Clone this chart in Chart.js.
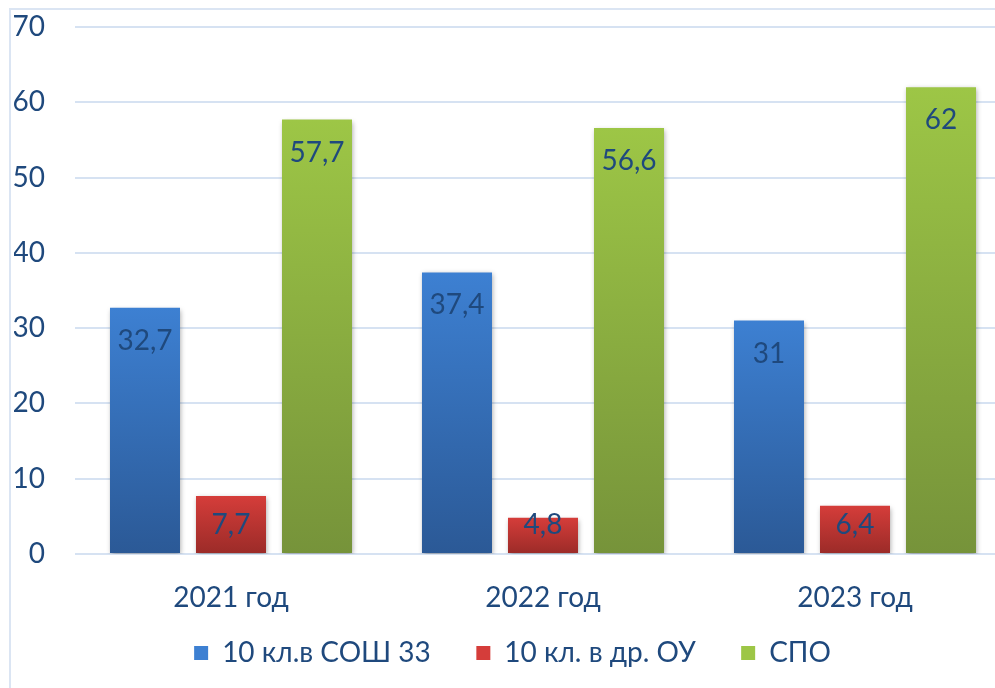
<!DOCTYPE html>
<html>
<head>
<meta charset="utf-8">
<script src="https://cdn.jsdelivr.net/npm/chart.js@4"></script>
<style>
  html, body { margin: 0; padding: 0; background: #fff; overflow: hidden; }
  #wrap { position: absolute; left: 0; top: 0; width: 1030px; height: 688px; }
  #frame { position: absolute; left: 9px; top: 8px; width: 1100px; height: 700px;
           border-left: 2px solid #dbe5f3; border-top: 2px solid #dbe5f3; }
</style>
</head>
<body>
<div id="frame"></div>
<div id="wrap"><canvas id="chart"></canvas></div>
<script>
// данные
const years = ["2021 год", "2022 год", "2023 год"];
const sosh33 = [32.7, 37.4, 31];
const otherOU = [7.7, 4.8, 6.4];
const spo = [57.7, 56.6, 62];
const yTicks = [0, 10, 20, 30, 40, 50, 60, 70];

const textColor = "#1f497d";
const font = "Lato, 'Open Sans', sans-serif";

function grad(top, bottom) {
  return function (ctx) {
    const chart = ctx.chart;
    if (!chart.chartArea || ctx.parsed === undefined) return top;
    const y = chart.scales.y;
    const y0 = y.getPixelForValue(ctx.parsed.y);
    const y1 = y.getPixelForValue(0);
    const g = chart.ctx.createLinearGradient(0, y0, 0, y1);
    g.addColorStop(0, top);
    g.addColorStop(1, bottom);
    return g;
  };
}

const barShadow = {
  id: "barShadow",
  beforeDatasetsDraw(chart) {
    const c = chart.ctx;
    c.save();
    c.shadowColor = "rgba(0,0,0,0.35)";
    c.shadowBlur = 5;
    c.shadowOffsetX = 1;
    c.shadowOffsetY = 2;
  },
  afterDatasetsDraw(chart) {
    chart.ctx.restore();
  }
};

const valueLabels = {
  id: "valueLabels",
  afterDatasetsDraw(chart) {
    const c = chart.ctx;
    const base = chart.scales.y.getPixelForValue(0);
    c.save();
    c.font = "28px " + font;
    c.fillStyle = textColor;
    c.textAlign = "center";
    c.textBaseline = "middle";
    chart.data.datasets.forEach((ds, i) => {
      chart.getDatasetMeta(i).data.forEach((bar, j) => {
        const txt = String(ds.data[j]).replace(".", ",");
        const ty = Math.min(bar.y + 33, base - 29);
        c.fillText(txt, bar.x, ty);
      });
    });
    c.restore();
  }
};

new Chart(document.getElementById("chart"), {
  type: "bar",
  data: {
    labels: years,
    datasets: [
      { label: "10 кл.в СОШ 33", data: sosh33, backgroundColor: grad("#3d80d2", "#2b5996") },
      { label: "10 кл. в др. ОУ", data: otherOU, backgroundColor: grad("#d53d3a", "#9b2b28") },
      { label: "СПО", data: spo, backgroundColor: grad("#9dc646", "#76933a") }
    ]
  },
  options: {
    responsive: true,
    maintainAspectRatio: false,
    animation: false,
    datasets: { bar: { categoryPercentage: 0.827, barPercentage: 0.814 } },
    layout: { autoPadding: false, padding: { left: 14, right: 19, top: 27, bottom: 11 } },
    scales: {
      x: {
        grid: { display: false },
        border: { display: false },
        ticks: { color: textColor, font: { family: font, size: 28 }, padding: 19 },
        afterFit(axis) { axis.height = 61; }
      },
      y: {
        min: 0,
        max: 70,
        afterBuildTicks(axis) { axis.ticks = yTicks.map(v => ({ value: v })); },
        grid: { color: "#d6e2f2", lineWidth: 2, drawTicks: false },
        border: { display: false },
        ticks: { color: textColor, font: { family: font, size: 28 }, padding: 30 },
        afterFit(axis) {
          axis.width = 61;
          axis.paddingTop = 0;
          axis.paddingBottom = 0;
        }
      }
    },
    plugins: {
      legend: {
        position: "bottom",
        labels: {
          color: textColor,
          font: { family: font, size: 28 },
          boxWidth: 14,
          boxHeight: 14,
          padding: 24,
          generateLabels(chart) {
            const tops = ["#3d80d2", "#d53d3a", "#9dc646"];
            const n = chart.data.datasets.length;
            return chart.data.datasets.map((ds, i) => ({
              text: i < n - 1 ? ds.label + "   " : ds.label,
              fillStyle: tops[i],
              strokeStyle: tops[i],
              lineWidth: 0,
              fontColor: textColor,
              datasetIndex: i
            }));
          }
        }
      },
      tooltip: { enabled: false }
    }
  },
  plugins: [barShadow, valueLabels]
});
</script>
</body>
</html>
